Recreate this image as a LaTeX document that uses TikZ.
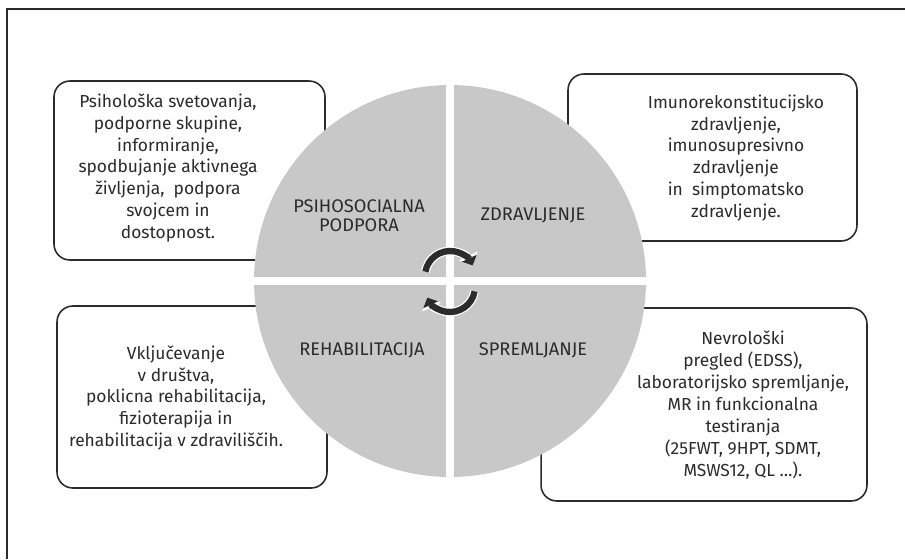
\documentclass[tikz,border=0pt]{standalone}
\usepackage{fontspec}
\setmainfont{Fira Sans}
\usepackage[dvipsnames]{xcolor}
\usepackage{tikz}
\usetikzlibrary{shapes,arrows.meta,positioning}

\definecolor{quadgray}{HTML}{C8C8C8}
\definecolor{inkgray}{HTML}{2B2B2B}

\begin{document}
\begin{tikzpicture}[
    x=0.02cm, y=-0.02cm,
    infobox/.style={draw=inkgray, line width=0.9pt, rounded corners=9pt, fill=white},
    infotext/.style={align=center, text=inkgray, font=\fontsize{9.9}{12.5}\selectfont},
    quadlabel/.style={align=center, text=inkgray, font=\fontsize{10.4}{10.6}\selectfont},
    cyclearrow/.style={line width=3.6pt, draw=inkgray, -{Triangle[length=4.5pt, width=9pt]},
        preaction={draw=white, line width=5pt, -{Triangle[length=6pt, width=11.5pt]}}}
]
\useasboundingbox (0,0) rectangle (905,559);
\draw[inkgray, line width=0.85pt] (7,559) -- (7,9) -- (905,9);

% boxes behind the circle
\node[infobox, minimum width=5.42cm, minimum height=3.58cm] (BoxPs) at (189.5,170.5) {};
\node[infobox, minimum width=5.78cm, minimum height=3.34cm] (BoxZd) at (712.5,157.5) {};
\node[infobox, minimum width=5.40cm, minimum height=3.64cm] (BoxRe) at (192,397) {};
\node[infobox, minimum width=6.52cm, minimum height=3.86cm] (BoxSp) at (704,404.5) {};

% the circle in four quarters
\fill[quadgray] (450,281) circle (196);
\draw[white, line width=4.5pt] (254,281) -- (646,281);
\draw[white, line width=4.5pt] (450,85) -- (450,477);

\node[infotext] (TxtPs) at (168,168) {Psihološka svetovanja,\\podporne skupine,\\informiranje,\\spodbujanje aktivnega\\življenja,\ \ podpora\\svojcem in\\dostopnost.};
\node[infotext] (TxtZd) at (736,158) {Imunorekonstitucijsko\\zdravljenje,\\imunosupresivno\\zdravljenje\\in\ \ simptomatsko\\zdravljenje.};
\node[infotext] (TxtRe) at (176,398) {Vključevanje\\v društva,\\poklicna rehabilitacija,\\fizioterapija in\\rehabilitacija v zdraviliščih.};
\node[infotext] (TxtSp) at (743,405) {Nevrološki\\pregled (EDSS),\\laboratorijsko spremljanje,\\MR in funkcionalna\\testiranja\\(25FWT, 9HPT, SDMT,\\MSWS12, QL \dots).};

\node[quadlabel] (QPs) at (359,216) {PSIHOSOCIALNA\\PODPORA};
\node[quadlabel] (QZd) at (533,215) {ZDRAVLJENJE};
\node[quadlabel] (QRe) at (362,350) {REHABILITACIJA};
\node[quadlabel] (QSp) at (533,350) {SPREMLJANJE};

% cycle arrows in the middle
\coordinate (TopHub) at (450,276);
\coordinate (LowHub) at (450,287);
\draw[cyclearrow] ([shift={(190:25)}]TopHub) arc (190:335:25);
\draw[cyclearrow] ([shift={(10:25)}]LowHub) arc (10:155:25);
\end{tikzpicture}
\end{document}
